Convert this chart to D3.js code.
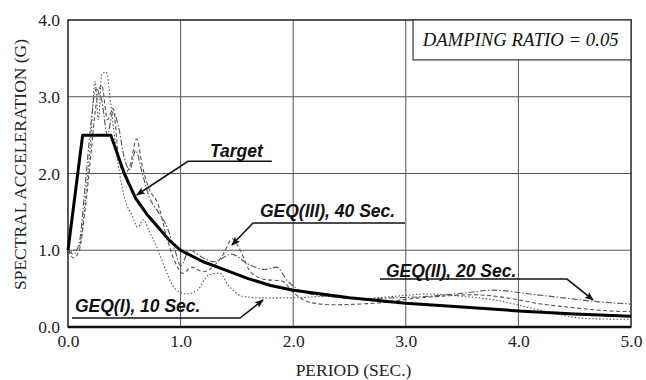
<!DOCTYPE html>
<html>
<head>
<meta charset="utf-8">
<script src="https://cdn.jsdelivr.net/npm/d3@7"></script>
<style>
  body { margin: 0; background: #fff; }
  svg { display: block; }
  .serif { font-family: "Liberation Serif", "Times New Roman", serif; }
  .callout { font-family: "Liberation Sans", Arial, sans-serif; font-weight: bold; font-style: italic; }
</style>
</head>
<body>
<div class="chart"></div>
<script>
// period ticks and acceleration ticks
const xTicks = [0, 1, 2, 3, 4, 5];
const yTicks = [0, 1, 2, 3, 4];

// target design spectrum [period, Sa]
const target = [[0, 1.0], [0.13, 2.5], [0.38, 2.5], [0.5, 2.0], [0.6, 1.68], [0.7, 1.47],
  [0.8, 1.3], [0.9, 1.13], [1.0, 1.0], [1.2, 0.85], [1.4, 0.74], [1.6, 0.63], [1.8, 0.54],
  [2.0, 0.48], [2.5, 0.38], [3.0, 0.31], [3.5, 0.26], [4.0, 0.21], [4.5, 0.17], [5.0, 0.14]];

// GEQ(I), 10 sec - dotted
const geq1 = [[0, 0.95], [0.05, 1.0], [0.1, 1.05], [0.15, 1.6], [0.2, 2.4], [0.24, 3.2], [0.27, 2.7],
  [0.3, 3.3], [0.34, 3.32], [0.38, 2.9], [0.42, 2.4], [0.47, 1.9], [0.52, 1.6], [0.57, 1.45],
  [0.62, 1.3], [0.67, 1.4], [0.72, 1.25], [0.8, 1.0], [0.88, 0.7], [0.95, 0.5], [1.05, 0.43],
  [1.15, 0.48], [1.25, 0.68], [1.35, 0.7], [1.42, 0.55], [1.55, 0.4], [1.7, 0.38], [2.0, 0.38],
  [2.3, 0.4], [2.6, 0.37], [2.9, 0.4], [3.2, 0.43], [3.5, 0.4], [3.8, 0.35], [4.1, 0.25],
  [4.4, 0.15], [4.6, 0.11], [5.0, 0.1]];

// GEQ(II), 20 sec - dash dot
const geq2 = [[0, 1.0], [0.05, 0.95], [0.1, 1.1], [0.15, 1.8], [0.2, 2.6], [0.25, 3.1], [0.3, 2.95],
  [0.35, 2.5], [0.4, 2.8], [0.45, 2.6], [0.5, 2.2], [0.55, 2.05], [0.6, 2.3], [0.66, 2.0],
  [0.72, 1.7], [0.8, 1.5], [0.88, 1.3], [0.95, 1.0], [1.0, 0.8], [1.08, 1.0], [1.2, 0.9],
  [1.3, 0.85], [1.45, 0.95], [1.6, 0.82], [1.75, 0.75], [1.85, 0.78], [1.95, 0.6], [2.1, 0.45],
  [2.3, 0.4], [2.6, 0.37], [2.9, 0.38], [3.2, 0.4], [3.5, 0.44], [3.78, 0.48], [4.1, 0.43],
  [4.4, 0.38], [4.7, 0.33], [5.0, 0.3]];

// GEQ(III), 40 sec - dashed
const geq3 = [[0, 1.0], [0.05, 0.9], [0.1, 1.0], [0.15, 1.5], [0.2, 2.2], [0.25, 2.9], [0.3, 3.15],
  [0.35, 2.7], [0.4, 2.85], [0.45, 2.2], [0.5, 2.0], [0.55, 2.1], [0.61, 2.45], [0.66, 2.1],
  [0.72, 1.8], [0.8, 1.6], [0.88, 1.15], [0.95, 0.85], [1.02, 0.7], [1.1, 0.78], [1.2, 0.72],
  [1.3, 0.8], [1.38, 0.95], [1.46, 1.15], [1.53, 1.0], [1.62, 0.72], [1.75, 0.62], [1.9, 0.6],
  [2.0, 0.45], [2.15, 0.32], [2.35, 0.29], [2.6, 0.3], [2.8, 0.32], [3.0, 0.36], [3.3, 0.4],
  [3.6, 0.42], [3.9, 0.38], [4.2, 0.3], [4.5, 0.25], [4.8, 0.21], [5.0, 0.2]];

// callout labels (data units): text start, underline from s to e, then leader to arrow tip
const callouts = [
  { text: "Target", tx: 1.26, ty: 2.21, s: 1.81, e: 1.066, uy: 2.16, ax: 0.61, ay: 1.72 },
  { text: "GEQ(III), 40 Sec.", tx: 1.705, ty: 1.433, s: 2.993, e: 1.643, uy: 1.355, ax: 1.456, ay: 1.068 },
  { text: "GEQ(II), 20 Sec.", tx: 2.824, ty: 0.651, s: 2.771, e: 4.432, uy: 0.625, ax: 4.663, ay: 0.352 },
  { text: "GEQ(I), 10 Sec.", tx: 0.062, ty: 0.195, s: 0.036, e: 1.528, uy: 0.117, ax: 1.732, ay: 0.352 }
];

const width = 646, height = 380;
const mLeft = 68, mRight = 631, mTop = 20, mBottom = 327;

const svg = d3.select(".chart").append("svg")
  .attr("width", width).attr("height", height)
  .attr("viewBox", [0, 0, width, height]);

const x = d3.scaleLinear().domain([0, 5]).range([mLeft, mRight]);
const y = d3.scaleLinear().domain([0, 4]).range([mBottom, mTop]);

svg.append("defs").append("marker")
  .attr("id", "arrow")
  .attr("viewBox", "0 0 10 10")
  .attr("refX", 9).attr("refY", 5)
  .attr("markerWidth", 10).attr("markerHeight", 9)
  .attr("markerUnits", "userSpaceOnUse")
  .attr("orient", "auto")
  .append("path").attr("d", "M0,1 L10,5 L0,9 L2,5 Z").attr("fill", "#111");

// grid
svg.append("g")
  .attr("stroke", "#555").attr("stroke-width", 1)
  .selectAll("line").data(xTicks.slice(1, -1)).join("line")
  .attr("x1", d => x(d)).attr("x2", d => x(d))
  .attr("y1", mTop).attr("y2", mBottom);
svg.append("g")
  .attr("stroke", "#555").attr("stroke-width", 1)
  .selectAll("line").data(yTicks.slice(1, -1)).join("line")
  .attr("y1", d => y(d)).attr("y2", d => y(d))
  .attr("x1", mLeft).attr("x2", mRight);

// frame
svg.append("rect")
  .attr("x", mLeft).attr("y", mTop)
  .attr("width", mRight - mLeft).attr("height", mBottom - mTop)
  .attr("fill", "none").attr("stroke", "#222").attr("stroke-width", 1.5);
svg.append("line")
  .attr("x1", mLeft).attr("x2", mRight).attr("y1", mBottom).attr("y2", mBottom)
  .attr("stroke", "#111").attr("stroke-width", 2.5);

// axes labels
const xAxis = d3.axisBottom(x).tickValues(xTicks).tickFormat(d3.format(".1f")).tickSize(0).tickPadding(8);
const yAxis = d3.axisLeft(y).tickValues(yTicks).tickFormat(d3.format(".1f")).tickSize(0).tickPadding(7);

svg.append("g")
  .attr("transform", `translate(0,${mBottom})`)
  .call(xAxis)
  .call(g => g.select(".domain").remove())
  .call(g => g.attr("font-family", null).attr("font-size", null))
  .call(g => g.selectAll("text").attr("class", "serif")
    .style("font-size", "17.5px").attr("fill", "#222"));

svg.append("g")
  .attr("transform", `translate(${mLeft - 1},0)`)
  .call(yAxis)
  .call(g => g.select(".domain").remove())
  .call(g => g.attr("font-family", null).attr("font-size", null))
  .call(g => g.selectAll("text").attr("class", "serif")
    .style("font-size", "17.5px").attr("fill", "#222"));

svg.append("text")
  .attr("class", "serif")
  .attr("x", (mLeft + mRight) / 2 + 4).attr("y", 376)
  .attr("text-anchor", "middle")
  .style("font-size", "17.5px").attr("fill", "#222")
  .text("PERIOD (SEC.)");

svg.append("text")
  .attr("class", "serif")
  .attr("transform", `translate(26,${(mTop + mBottom) / 2 - 9}) rotate(-90)`)
  .attr("text-anchor", "middle")
  .style("font-size", "17.5px").attr("fill", "#222")
  .text("SPECTRAL ACCELERATION (G)");

// damping box
svg.append("rect")
  .attr("x", x(3.064)).attr("y", y(4.0))
  .attr("width", x(5.0) - x(3.064)).attr("height", y(3.48) - y(4.0))
  .attr("fill", "#fff").attr("stroke", "#333").attr("stroke-width", 1.2);
svg.append("text")
  .attr("class", "serif")
  .attr("x", x(4.02)).attr("y", y(3.66))
  .attr("text-anchor", "middle")
  .attr("textLength", 196).attr("lengthAdjust", "spacingAndGlyphs")
  .style("font-style", "italic")
  .style("font-size", "18px").attr("fill", "#111")
  .text("DAMPING RATIO = 0.05");

// records
const line = d3.line().x(d => x(d[0])).y(d => y(d[1]));
const smooth = d3.line().x(d => x(d[0])).y(d => y(d[1])).curve(d3.curveMonotoneX);

const records = [
  { data: geq1, dash: "1.5,2" },
  { data: geq2, dash: "6,2,1.5,2" },
  { data: geq3, dash: "4,2.5" }
];

svg.append("g")
  .attr("fill", "none").attr("stroke", "#555").attr("stroke-width", 1.1)
  .selectAll("path").data(records).join("path")
  .attr("stroke-dasharray", d => d.dash)
  .attr("d", d => smooth(d.data));

svg.append("path")
  .attr("fill", "none").attr("stroke", "#000").attr("stroke-width", 3)
  .attr("stroke-linejoin", "round")
  .attr("d", line(target));

// callouts
const cg = svg.append("g");
callouts.forEach(c => {
  cg.append("path")
    .attr("fill", "none").attr("stroke", "#111").attr("stroke-width", 1.6)
    .attr("marker-end", "url(#arrow)")
    .attr("d", `M${x(c.s)},${y(c.uy)} L${x(c.e)},${y(c.uy)} L${x(c.ax)},${y(c.ay)}`);
  cg.append("text")
    .attr("class", "callout")
    .attr("x", x(c.tx)).attr("y", y(c.ty))
    .style("font-size", "17.5px").attr("fill", "#111")
    .text(c.text);
});
</script>
</body>
</html>
